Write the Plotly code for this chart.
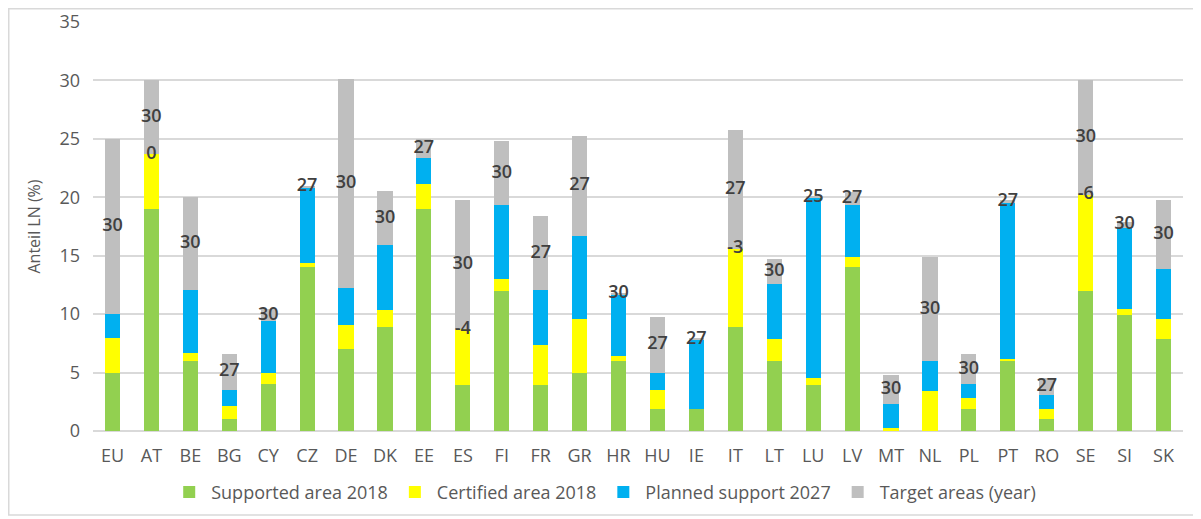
import plotly.graph_objects as go

countries = ["EU", "AT", "BE", "BG", "CY", "CZ", "DE", "DK", "EE", "ES", "FI", "FR", "GR", "HR",
             "HU", "IE", "IT", "LT", "LU", "LV", "MT", "NL", "PL", "PT", "RO", "SE", "SI", "SK"]

supported_2018 = [5, 19, 6, 1, 4, 14, 7, 8.9, 19, 3.9, 12, 3.9, 5, 6,
                  1.9, 1.9, 8.9, 6, 3.9, 14, 0, 0, 1.9, 6, 1, 12, 9.9, 7.9]
certified_2018 = [3, 4.7, 0.65, 1.1, 1, 0.4, 2.1, 1.45, 2.1, 4.8, 1, 3.45, 4.55, 0.45,
                  1.65, 0, 6.7, 1.85, 0.65, 0.9, 0.25, 3.45, 0.95, 0.2, 0.9, 8.2, 0.5, 1.65]
planned_2027 = [2, 0, 5.4, 1.45, 4.4, 6.4, 3.1, 5.6, 2.3, 0, 6.3, 4.7, 7.15, 5.2,
                1.45, 5.9, 0, 4.75, 15.4, 4.45, 2.1, 2.5, 1.2, 13.3, 1.15, 0, 7.0, 4.3]
target_areas = [15, 6.3, 7.95, 3.0, 1.0, 0.2, 17.9, 4.55, 1.6, 11.1, 5.55, 6.35, 8.55, 0.2,
                4.75, 0.1, 10.15, 2.1, 0.1, 1.1, 2.45, 8.95, 2.5, 0.3, 1.5, 9.8, 0.5, 5.9]
target_year = ["30", "30", "30", "27", "30", "27", "30", "30", "27", "30", "30", "27", "27", "30",
               "27", "27", "27", "30", "25", "27", "30", "30", "30", "27", "27", "30", "30", "30"]
gap_label = ["", "0", "", "", "", "", "", "", "", "-4", "", "", "", "",
             "", "", "-3", "", "", "", "", "", "", "", "", "-6", "", ""]

series = [
    ("Supported area 2018", supported_2018, "#92D050"),
    ("Certified area 2018", certified_2018, "#FFFF00"),
    ("Planned support 2027", planned_2027, "#00B0F0"),
    ("Target areas (year)", target_areas, "#BFBFBF"),
]

FONT = "Open Sans, Noto Sans, sans-serif"
GREY_TXT = "#595959"

fig = go.Figure()
for name, vals, col in series:
    fig.add_trace(go.Bar(x=countries, y=vals, name=name, marker=dict(color=col, line=dict(width=0))))

# label positions: middle of the target segment / middle of the planned segment
base_blue = [s + c for s, c in zip(supported_2018, certified_2018)]
base_grey = [b + p for b, p in zip(base_blue, planned_2027)]
year_y = [b + t / 2 for b, t in zip(base_grey, target_areas)]
gap_y = [b + p / 2 for b, p in zip(base_blue, planned_2027)]

label_font = dict(family=FONT, size=18, color="#404040", weight=600)
fig.add_trace(go.Scatter(x=countries, y=year_y, text=target_year, mode="text",
                         textfont=label_font, showlegend=False, hoverinfo="skip"))
fig.add_trace(go.Scatter(x=countries, y=gap_y, text=gap_label, mode="text",
                         textfont=label_font, showlegend=False, hoverinfo="skip"))

tick_font = dict(family=FONT, size=18, color=GREY_TXT, weight=500)

fig.update_layout(
    barmode="stack",
    bargap=0.61,
    width=1201, height=519,
    margin=dict(l=85, r=26, t=14, b=96),
    plot_bgcolor="white",
    paper_bgcolor="white",
    font=dict(family=FONT, size=17, color=GREY_TXT),
    xaxis=dict(range=[-0.5, len(countries) - 0.5], showgrid=False, showline=False, ticks="",
               tickfont=tick_font, automargin=False, ticklabelstandoff=12),
    yaxis=dict(range=[0, 35], dtick=5, showgrid=True, gridcolor="#D9D9D9", gridwidth=1.5,
               zeroline=True, zerolinecolor="#D9D9D9", zerolinewidth=1.5,
               ticks="", tickfont=tick_font, automargin=False, ticklabelstandoff=12,
               title=dict(text="Anteil LN (%)", font=dict(size=16, color=GREY_TXT, weight=500),
                          standoff=14)),
    legend=dict(orientation="h", x=0.469, xanchor="center", y=-0.15, yanchor="middle",
                font=dict(size=18, color=GREY_TXT, weight=500), traceorder="normal", itemwidth=34),
    shapes=[dict(type="rect", xref="paper", yref="paper", x0=-0.0773, x1=1.0138, y0=-0.2054, y1=1.0324,
                 line=dict(color="#D9D9D9", width=1.5), fillcolor="rgba(0,0,0,0)", layer="below")],
)

fig.write_html("out.html")
